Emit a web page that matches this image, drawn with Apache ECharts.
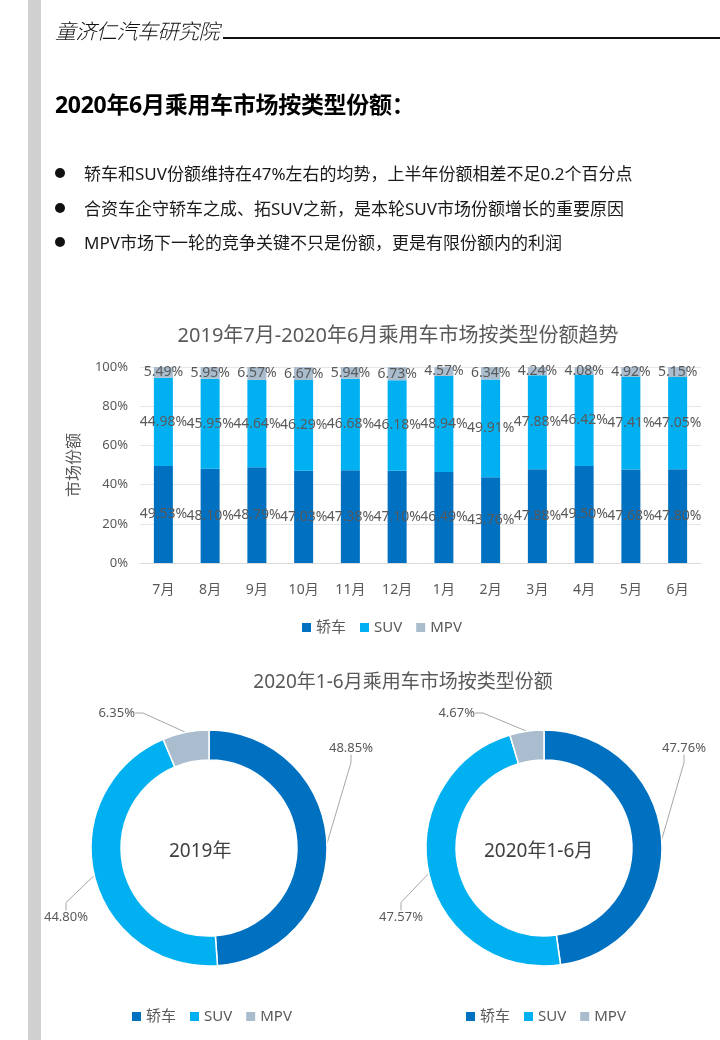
<!DOCTYPE html>
<html>
<head>
<meta charset="utf-8">
<script src="https://cdn.jsdelivr.net/npm/echarts@6/dist/echarts.min.js"></script>
<style>
  html, body { margin: 0; padding: 0; background: #fff; }
  body { width: 720px; height: 1040px; position: relative; overflow: hidden;
         font-family: 'Noto Sans', 'Noto Sans CJK SC', sans-serif; }
  #sidebar { position: absolute; left: 28px; top: 0; width: 13px; height: 1040px; background: #d0d0d0; }
  #header { position: absolute; left: 55px; top: 15px; font-size: 21px; font-style: italic; font-weight: 300;
            color: #111; font-family: 'Noto Sans CJK SC', sans-serif; letter-spacing: -0.5px; }
  #hline { position: absolute; left: 223px; top: 37px; width: 497px; height: 2px; background: #111; }
  #title { position: absolute; left: 55px; top: 86px; font-size: 23px; font-weight: bold; color: #000;
           font-family: 'Noto Sans', 'Noto Sans CJK SC', sans-serif; letter-spacing: -0.3px; }
  .bullet { position: absolute; left: 55px; font-size: 17px; color: #1a1a1a; white-space: nowrap;
            font-family: 'Noto Sans', 'Noto Sans CJK SC', sans-serif; }
  .bullet .dot { display: inline-block; width: 10px; height: 10px; border-radius: 50%; background: #111;
                 margin-right: 19px; vertical-align: middle; position: relative; top: -2px; }
  #chart { position: absolute; left: 0; top: 0; width: 720px; height: 1040px; }
</style>
</head>
<body>
<div id="chart"></div>
<div id="sidebar"></div>
<div id="header">童济仁汽车研究院</div>
<div id="hline"></div>
<div id="title">2020年6月乘用车市场按类型份额：</div>
<div class="bullet" style="top:160px"><span class="dot"></span>轿车和SUV份额维持在47%左右的均势，上半年份额相差不足0.2个百分点</div>
<div class="bullet" style="top:195px"><span class="dot"></span>合资车企守轿车之成、拓SUV之新，是本轮SUV市场份额增长的重要原因</div>
<div class="bullet" style="top:229px"><span class="dot"></span>MPV市场下一轮的竞争关键不只是份额，更是有限份额内的利润</div>
<script>
// ---- data ----
const months = ['7月','8月','9月','10月','11月','12月','1月','2月','3月','4月','5月','6月'];
const sedanShare = [49.53, 48.10, 48.79, 47.03, 47.38, 47.10, 46.49, 43.76, 47.88, 49.50, 47.68, 47.80];
const suvShare   = [44.98, 45.95, 44.64, 46.29, 46.68, 46.18, 48.94, 49.91, 47.88, 46.42, 47.41, 47.05];
const mpvShare   = [5.49, 5.95, 6.57, 6.67, 5.94, 6.73, 4.57, 6.34, 4.24, 4.08, 4.92, 5.15];
const typeNames  = ['轿车', 'SUV', 'MPV'];
const share2019  = [48.85, 44.80, 6.35];
const share2020H1 = [47.76, 47.57, 4.67];
const yTicks = [0, 20, 40, 60, 80, 100];

const colors = ['#0070C0', '#00B0F0', '#A9BDCF'];
const txt = '#595959';
const FONT = "'Noto Sans', 'Noto Sans CJK SC', sans-serif";

const chart = echarts.init(document.getElementById('chart'), null, { renderer: 'canvas' });

function barSeries(name, data, idx) {
  return {
    name: name, type: 'bar', stack: 'total', barWidth: 19,
    data: data,
    itemStyle: { color: colors[idx] },
    label: {
      show: true, position: 'inside', color: txt, fontSize: 14, fontFamily: FONT,
      formatter: p => Number(p.value).toFixed(2) + '%'
    },
    emphasis: { disabled: true }
  };
}

function pieSeries(name, data, cx, labelPos) {
  return {
    name: name, type: 'pie', center: [cx, 848], radius: [88, 118],
    startAngle: 90, clockwise: true,
    data: typeNames.map((n, i) => ({ name: n, value: data[i], itemStyle: { color: colors[i] } })),
    itemStyle: { borderColor: '#fff', borderWidth: 1.5 },
    label: { show: true, position: 'outside', color: txt, fontSize: 13, fontFamily: FONT,
             overflow: 'none', edgeDistance: 0, bleedMargin: 0,
             formatter: p => p.value.toFixed(2) + '%' },
    labelLine: { show: true, lineStyle: { color: '#a6a6a6', width: 1 }, length: 8, length2: 8 },
    labelLayout: function (p) {
      const lp = labelPos[p.dataIndex];
      return { x: cx + lp[0], y: 848 + lp[1], align: lp[2], verticalAlign: 'middle', hideOverlap: false };
    },
    emphasis: { disabled: true }
  };
}

const legendBase = {
  icon: 'rect', itemWidth: 9, itemHeight: 9, itemGap: 14,
  textStyle: { color: txt, fontSize: 15, fontFamily: FONT },
  data: typeNames, selectedMode: false
};

const option = {
  animation: false,
  textStyle: { fontFamily: FONT },
  title: [
    { text: '2019年7月-2020年6月乘用车市场按类型份额趋势', left: 393, top: 321, textAlign: 'center',
      textStyle: { color: txt, fontSize: 20, fontWeight: 'normal', fontFamily: FONT } },
    { text: '2020年1-6月乘用车市场按类型份额', left: 398, top: 668, textAlign: 'center',
      textStyle: { color: txt, fontSize: 19, fontWeight: 'normal', fontFamily: FONT } }
  ],
  legend: [
    Object.assign({}, legendBase, { left: 297, top: 615 }),
    Object.assign({}, legendBase, { left: 127, top: 1004 }),
    Object.assign({}, legendBase, { left: 461, top: 1004 })
  ],
  grid: { left: 140, right: 19, top: 367, height: 196, containLabel: false },
  xAxis: {
    type: 'category', data: months,
    axisLine: { lineStyle: { color: '#d9d9d9' } },
    axisTick: { show: false },
    axisLabel: { color: txt, fontSize: 14, margin: 20, fontFamily: FONT }
  },
  yAxis: {
    type: 'value', min: yTicks[0], max: yTicks[yTicks.length - 1], interval: 20,
    name: '市场份额', nameLocation: 'middle', nameGap: 58, nameRotate: 90,
    nameTextStyle: { color: txt, fontSize: 16, fontFamily: FONT },
    axisLine: { show: false }, axisTick: { show: false },
    axisLabel: { color: txt, fontSize: 13, margin: 12, formatter: '{value}%', fontFamily: FONT },
    splitLine: { lineStyle: { color: '#e6e6e6' } }
  },
  graphic: [
    { type: 'text', left: 209 - 40, top: 842, style: { text: '2019年', fill: '#404040', fontSize: 19, fontFamily: FONT, width: 80, align: 'center' } },
    { type: 'text', left: 544 - 60, top: 842, style: { text: '2020年1-6月', fill: '#404040', fontSize: 19, fontFamily: FONT, width: 120, align: 'center' } }
  ],
  series: [
    barSeries(typeNames[0], sedanShare, 0),
    barSeries(typeNames[1], suvShare, 1),
    barSeries(typeNames[2], mpvShare, 2),
    pieSeries('2019年', share2019, 209, [[120, -100, 'left'], [-121, 69, 'right'], [-74, -135, 'right']]),
    pieSeries('2020年1-6月', share2020H1, 544, [[118, -100, 'left'], [-121, 69, 'right'], [-69, -135, 'right']])
  ]
};
chart.setOption(option);
</script>
</body>
</html>
